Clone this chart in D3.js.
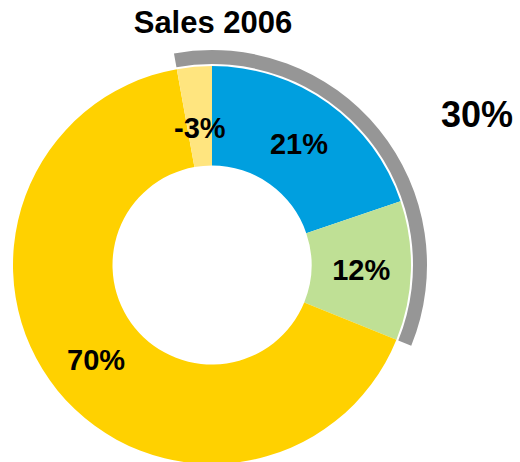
<!DOCTYPE html>
<html>
<head>
<meta charset="utf-8">
<script src="https://cdn.jsdelivr.net/npm/d3@7"></script>
<style>
    body { margin: 0; background: #fff; }
    svg text { font-family: "Liberation Sans", Arial, sans-serif; font-weight: bold; fill: #000; }
</style>
</head>
<body>
<div id="chart"></div>
<script>
// ---- DATA ----
var categories = ["A", "B", "C", "D"],
    values = [21, 12, 70, -3],
    labels = ["21%", "12%", "70%", "-3%"],
    colors = ["#009FDF", "#BFE095", "#FFD100", "#FFE57F"],
    groupIdx = [3, 0, 1],          // slices covered by the grey bracket
    groupLabel = "30%",
    title = "Sales 2006";

var width = 520,
    height = 462,
    cx = 212, cy = 265,
    outerR = 199, innerR = 99.5;

var svg = d3.select("#chart")
            .append("svg")
            .attr("width", width)
            .attr("height", height);

var pie = d3.pie()
            .sort(null)
            .value(function(v){return Math.abs(v)});

var slices = pie(values);

var arc = d3.arc()
            .innerRadius(innerR)
            .outerRadius(outerR);

var g = svg.append("g")
            .attr("transform", "translate(" + cx + "," + cy + ")");

// donut slices
g.selectAll("path.slice")
    .data(slices)
    .enter()
    .append("path")
        .attr("class", "slice")
        .attr("d", arc)
        .attr("fill", function(d, i){return colors[i]});

// grey bracket around the -3%, 21% and 12% slices
var first = slices[groupIdx[0]],
    last = slices[groupIdx[groupIdx.length - 1]];

var bracket = d3.arc()
            .innerRadius(outerR + 2)
            .outerRadius(outerR + 16)
            .startAngle(first.startAngle - 2 * Math.PI)
            .endAngle(last.endAngle);

g.append("path")
    .attr("d", bracket())
    .attr("fill", "#969696");

// slice labels
var labelArc = function(d){
    var small = (d.endAngle - d.startAngle) < 0.3,
        r = small ? 138 : (innerR + outerR) / 2,
        a = (d.startAngle + d.endAngle) / 2;
    return [Math.sin(a) * r, -Math.cos(a) * r];
};

g.selectAll("text.lbl")
    .data(slices)
    .enter()
    .append("text")
        .attr("class", "lbl")
        .attr("x", function(d){return labelArc(d)[0]})
        .attr("y", function(d){return labelArc(d)[1] + 10.5})
        .attr("text-anchor", "middle")
        .style("font-size", "29px")
        .text(function(d, i){return labels[i]});

// group label
g.append("text")
    .attr("x", 265)
    .attr("y", -138)
    .attr("text-anchor", "middle")
    .style("font-size", "36px")
    .text(groupLabel);

// title
svg.append("text")
    .attr("x", 213)
    .attr("y", 33)
    .attr("text-anchor", "middle")
    .style("font-size", "31px")
    .text(title);
</script>
</body>
</html>
